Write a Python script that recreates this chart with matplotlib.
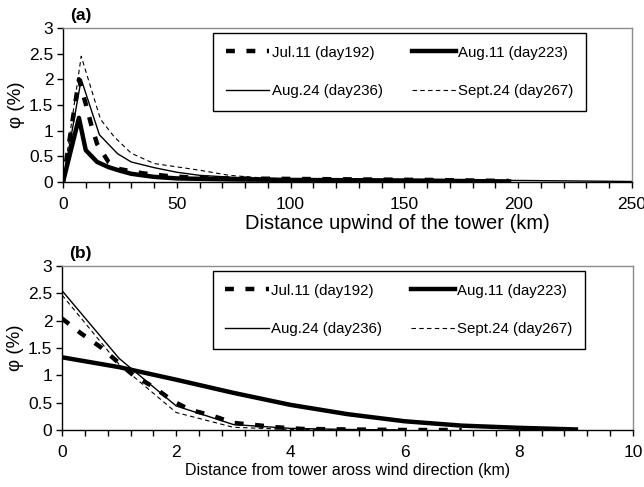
import numpy as np
import matplotlib
matplotlib.use('Agg')
import matplotlib.pyplot as plt
from matplotlib.ticker import MultipleLocator

plt.rcParams['font.family'] = ['Liberation Sans', 'DejaVu Sans']

# panel (a): distance upwind of the tower (km)
jul11_a_x = [0, 7, 10, 12.5, 15, 20, 25, 35, 45, 55, 70, 100, 130, 160, 196]
jul11_a_y = [0, 2.0, 1.52, 1.1, 0.74, 0.39, 0.25, 0.17, 0.12, 0.09, 0.07, 0.06, 0.05, 0.04, 0.02]
aug11_a_x = [0, 7, 10, 15, 20, 25, 30, 40, 50, 75, 100, 150, 196]
aug11_a_y = [0, 1.25, 0.62, 0.39, 0.29, 0.22, 0.16, 0.1, 0.07, 0.05, 0.04, 0.03, 0.01]
aug24_a_x = [0, 8, 16, 24, 30, 40, 50, 60, 75, 100, 150, 200, 250]
aug24_a_y = [0, 2.0, 0.92, 0.55, 0.39, 0.28, 0.19, 0.13, 0.09, 0.06, 0.04, 0.03, 0.01]
sep24_a_x = [0, 8, 16.5, 22.5, 30, 40, 60, 73, 90, 120, 160, 196]
sep24_a_y = [0, 2.45, 1.22, 0.88, 0.56, 0.36, 0.23, 0.13, 0.07, 0.05, 0.03, 0.01]

# panel (b): distance from tower across wind direction (km)
jul11_b_x = [0, 0.33, 0.67, 0.97, 1.25, 1.6, 1.94, 2.24, 2.64, 3.0, 3.4, 3.76, 4.2, 5, 6, 7]
jul11_b_y = [2.04, 1.77, 1.52, 1.25, 1.0, 0.79, 0.53, 0.37, 0.26, 0.13, 0.09, 0.05, 0.02, 0.01, 0.0, 0.0]
aug11_b_x = [0, 1, 2, 3, 4, 5, 6, 7, 8, 9]
aug11_b_y = [1.33, 1.15, 0.92, 0.68, 0.46, 0.29, 0.16, 0.08, 0.04, 0.01]
aug24_b_x = [0, 1, 2, 3, 4, 5, 6]
aug24_b_y = [2.55, 1.31, 0.44, 0.1, 0.03, 0.01, 0.0]
sep24_b_x = [0, 1, 2, 3, 4, 5, 6]
sep24_b_y = [2.47, 1.2, 0.32, 0.05, 0.01, 0.0, 0.0]

labels = ['Jul.11 (day192)', 'Aug.11 (day223)', 'Aug.24 (day236)', 'Sept.24 (day267)']


def style_axes(ax, xmax, xmajor, xminor, xlabel, xlab_size, xlab_pos, tag):
    ax.set_xlim(0, xmax)
    ax.set_ylim(0, 3)
    ax.xaxis.set_major_locator(MultipleLocator(xmajor))
    ax.xaxis.set_minor_locator(MultipleLocator(xminor))
    ax.set_yticks([0, 0.5, 1, 1.5, 2, 2.5, 3])
    ax.set_yticklabels(['0', '0.5', '1', '1.5', '2', '2.5', '3'])
    ax.tick_params(axis='both', which='both', direction='out', length=4, width=1,
                   labelsize=12.5)
    ax.tick_params(axis='x', which='both', pad=7)
    ax.tick_params(axis='y', pad=3)
    for s in ['top', 'right']:
        ax.spines[s].set_color('#8c8c8c')
        ax.spines[s].set_linewidth(1)
    for s in ['left', 'bottom']:
        ax.spines[s].set_color('black')
        ax.spines[s].set_linewidth(1)
    ax.set_xlabel(xlabel, fontsize=xlab_size)
    ax.xaxis.set_label_coords(*xlab_pos)
    ax.set_ylabel('φ (%)', fontsize=13.5)
    ax.yaxis.set_label_coords(-0.066, 0.5)
    ax.text(0.012, 1.03, tag, transform=ax.transAxes, fontsize=12.5,
            fontweight='bold', ha='left', va='bottom')


def draw(ax, data, bbox):
    (x1, y1), (x2, y2), (x3, y3), (x4, y4) = data
    h1, = ax.plot(x1, y1, color='black', lw=3.2, dashes=(2, 2.6), solid_capstyle='butt')
    h2, = ax.plot(x2, y2, color='black', lw=3.2, solid_joinstyle='round')
    h3, = ax.plot(x3, y3, color='black', lw=1.0)
    h4, = ax.plot(x4, y4, color='black', lw=0.8, dashes=(4, 3))
    leg = ax.legend([h1, h3, h2, h4], [labels[0], labels[2], labels[1], labels[3]],
                    ncol=2, loc='upper left', bbox_to_anchor=bbox, mode='expand',
                    fontsize=10.8, handlelength=2.9, handletextpad=0.15,
                    labelspacing=1.65, borderpad=0.85, columnspacing=1.6,
                    borderaxespad=0, fancybox=False, edgecolor='black', framealpha=1)
    leg.get_frame().set_linewidth(1.0)


fig = plt.figure(figsize=(6.44, 4.87), dpi=100)
ax1 = fig.add_axes([63/644, 1-182/487, 569/644, 154/487])
ax2 = fig.add_axes([62/644, 1-430/487, 571/644, 164/487])

draw(ax1, [(jul11_a_x, jul11_a_y), (aug11_a_x, aug11_a_y),
           (aug24_a_x, aug24_a_y), (sep24_a_x, sep24_a_y)],
     (0.264, 0.468, 0.655, 0.5))
style_axes(ax1, 250, 50, 10, 'Distance upwind of the tower (km)', 14.5,
           (0.588, -0.21), '(a)')

draw(ax2, [(jul11_b_x, jul11_b_y), (aug11_b_x, aug11_b_y),
           (aug24_b_x, aug24_b_y), (sep24_b_x, sep24_b_y)],
     (0.264, 0.45, 0.652, 0.52))
style_axes(ax2, 10, 2, 0.4, 'Distance from tower aross wind direction (km)', 11.5,
           (0.5, -0.2), '(b)')

fig.savefig('out.png', dpi=100)
